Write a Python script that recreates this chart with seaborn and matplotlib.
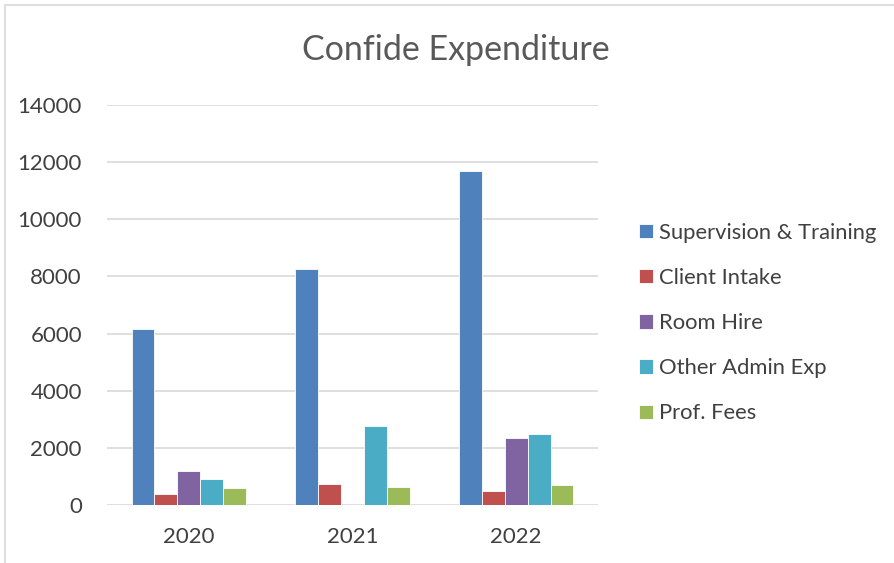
import numpy as np
import pandas as pd
import matplotlib
matplotlib.use("Agg")
import matplotlib.pyplot as plt
import seaborn as sns
from matplotlib.patches import Rectangle

# values
years = ["2020", "2021", "2022"]
series = ["Supervision & Training", "Client Intake", "Room Hire",
          "Other Admin Exp", "Prof. Fees"]
supervision = [6150, 8260, 11680]
client_intake = [370, 745, 480]
room_hire = [1190, 0, 2340]
other_admin = [920, 2770, 2470]
prof_fees = [600, 620, 700]

colors = ["#4F81BD", "#C0504D", "#8064A2", "#4BACC6", "#9BBB59"]

rows = []
for name, vals in zip(series, [supervision, client_intake, room_hire, other_admin, prof_fees]):
    for y, v in zip(years, vals):
        rows.append({"year": y, "series": name, "value": v})
df = pd.DataFrame(rows)

sns.set_style("white")
plt.rcParams["font.family"] = ["Lato", "DejaVu Sans"]

fig = plt.figure(figsize=(8.95, 5.63), dpi=100)
ax = fig.add_axes([107 / 895, 1 - 505 / 563, 491 / 895, 400 / 563])

sns.barplot(data=df, x="year", y="value", hue="series", palette=colors,
            saturation=1, width=0.7, edgecolor="white", linewidth=0.6,
            ax=ax, errorbar=None)

ax.set_ylim(0, 14000)
ax.set_yticks(range(0, 14001, 2000))
ax.yaxis.grid(True, color="#D9D9D9", linewidth=1.2)
ax.set_axisbelow(True)
for s in ax.spines.values():
    s.set_visible(False)
ax.tick_params(axis="both", length=0, labelsize=16, colors="#404040")
ax.tick_params(axis="x", pad=16)
ax.tick_params(axis="y", pad=18)
ax.set_xlabel("")
ax.set_ylabel("")

handles, labels = ax.get_legend_handles_labels()
ax.get_legend().remove()
fig.legend(handles, labels, loc="center left", bbox_to_anchor=(639 / 895, 1 - 323 / 563),
           frameon=False, fontsize=15.8, handlelength=0.64, handleheight=0.64,
           handletextpad=0.25, labelspacing=1.15, borderpad=0, borderaxespad=0,
           labelcolor="#404040")

fig.text(456 / 895, 1 - 50 / 563, "Confide Expenditure", ha="center", va="center",
         fontsize=24.5, color="#595959")

fig.patches.append(Rectangle((5 / 895, -0.01), 1.0, 1 - 5 / 563 + 0.01,
                             transform=fig.transFigure, fill=False,
                             edgecolor="#D9D9D9", linewidth=1.2))

fig.savefig("out.png", dpi=100, facecolor="white")
